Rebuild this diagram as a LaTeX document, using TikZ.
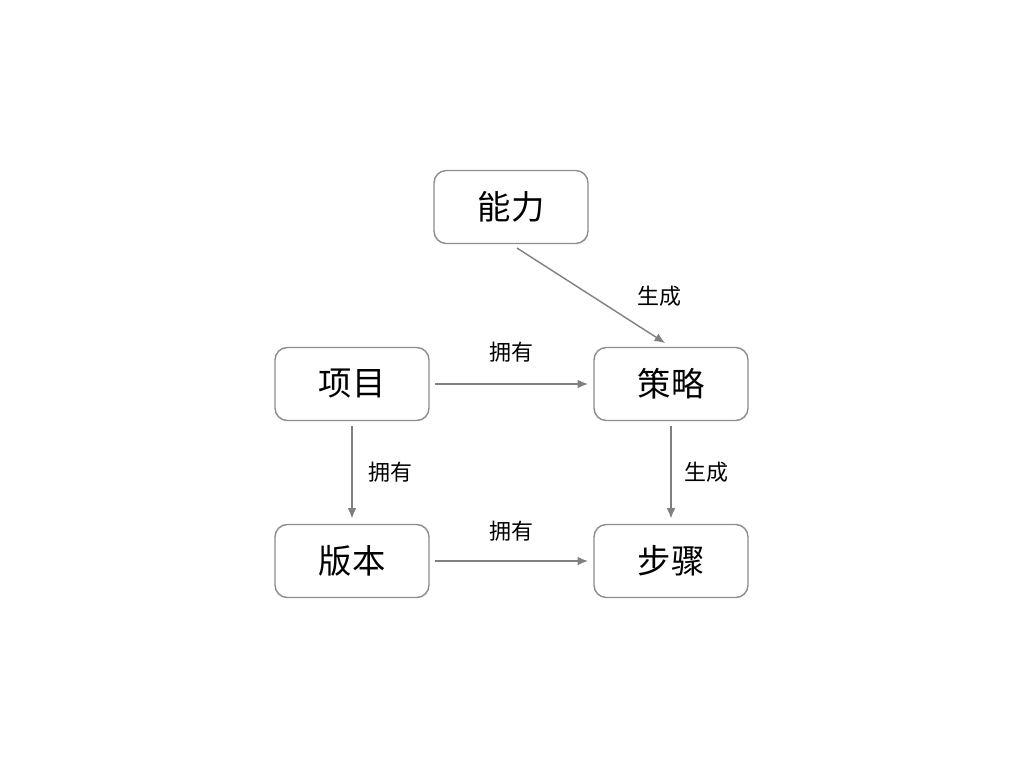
\documentclass[tikz,border=0pt]{standalone}
\usepackage{fontspec}
\setmainfont{Noto Sans CJK SC}
\usetikzlibrary{arrows.meta,positioning}
\definecolor{boxgray}{HTML}{8C8C8C}
\definecolor{linegray}{HTML}{808080}

\begin{document}
\begin{tikzpicture}
    [x=0.02cm,y=-0.02cm,
    % Styles
    entity/.style={draw=boxgray,thick,rounded corners=7pt,minimum width=3.08cm,
        minimum height=1.46cm,font=\fontsize{19}{19}\selectfont},
    link/.style={draw=linegray,thick,-{Latex[length=6pt,width=5pt]},shorten >=3pt,shorten <=3pt},
    linklabel/.style={font=\fontsize{12.5}{12.5}\selectfont}]

    \useasboundingbox (0,0) rectangle (1024,768);

    % The nodes
    \node[entity] (nengli) at (511,207) {能力};
    \node[entity] (xiangmu) at (352,384) {项目};
    \node[entity] (celue) at (671,384) {策略};
    \node[entity] (banben) at (352,561) {版本};
    \node[entity] (buzhou) at (671,561) {步骤};

    % The links
    \draw[link,shorten <=4pt,shorten >=4pt] (nengli.south) -- (celue.north);
    \draw[link] (xiangmu) -- (celue);
    \draw[link] (xiangmu) -- (banben);
    \draw[link] (celue) -- (buzhou);
    \draw[link] (banben) -- (buzhou);

    % Labels
    \node[linklabel] (l1) at (659,296) {生成};
    \node[linklabel] (l2) at (511,352) {拥有};
    \node[linklabel] (l3) at (390,472) {拥有};
    \node[linklabel] (l4) at (706,472) {生成};
    \node[linklabel] (l5) at (511,531) {拥有};
\end{tikzpicture}
\end{document}
